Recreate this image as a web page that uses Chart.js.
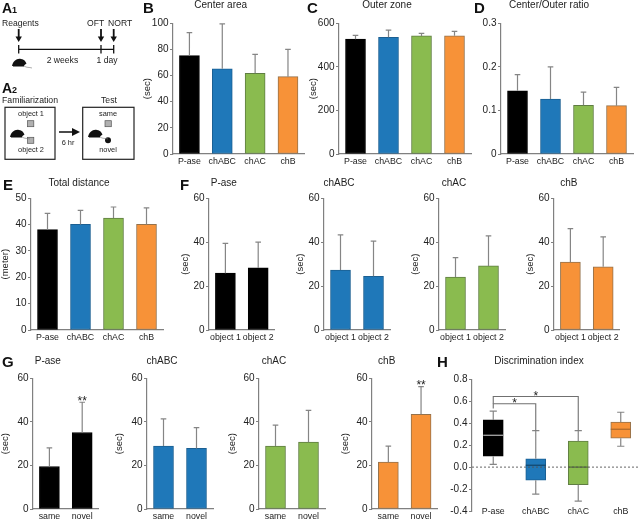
<!DOCTYPE html>
<html>
<head>
<meta charset="utf-8">
<title>Behaviour panels</title>
<script src="https://cdn.jsdelivr.net/npm/chart.js@4/dist/chart.umd.js"></script>
<style>
  html, body { margin: 0; padding: 0; background: #fff; }
  #page { position: relative; width: 640px; height: 520px; overflow: hidden; }
  #page canvas { position: absolute; }
  #schema { position: absolute; left: 0; top: 0; will-change: transform; }
  #schema text { font-family: "Liberation Sans", Arial, sans-serif; fill: #222; }
  #schema .letter { font-weight: bold; fill: #111; }
</style>
</head>
<body>
<div id="page">
  <svg id="schema" width="640" height="520" viewBox="0 0 640 520">
    <defs>
      <g id="mouse">
        <path d="M0 8 C1 3 5 0 9 1 C11 1 12 2 13 3 L14.5 5.5 L12.5 7 L12 8 Z" fill="#111"/>
        <path d="M1 8 L12 8" stroke="#111" stroke-width="1"/>
        <path d="M12 8 C15 10 17 9 20 10" stroke="#777" stroke-width="0.6" fill="none"/>
      </g>
      <path id="arrow" d="M-0.9 0 L0.9 0 L0.9 7.5 L3.2 7.5 L0 13 L-3.2 7.5 L-0.9 7.5 Z" fill="#111"/>
    </defs>

    <text class="letter" x="2" y="12.5" font-size="14">A</text>
    <text class="letter" x="12" y="12.5" font-size="9">1</text>
    <text x="2" y="25.5" font-size="8.6">Reagents</text>
    <text x="87" y="25.5" font-size="8.6">OFT</text>
    <text x="108" y="25.5" font-size="8.6">NORT</text>
    <use href="#arrow" x="18.7" y="29"/>
    <use href="#arrow" x="101" y="29"/>
    <use href="#arrow" x="113.7" y="29"/>
    <path d="M18.7 49.3 H113.7 M18.7 45 V53.5 M101 45 V53.5 M113.7 45 V53.5" stroke="#111" stroke-width="1.3" fill="none"/>
    <text x="46.7" y="62.7" font-size="8.6">2 weeks</text>
    <text x="96.5" y="62.7" font-size="8.6">1 day</text>
    <use href="#mouse" x="12" y="58"/>

    <text class="letter" x="2" y="92.5" font-size="14">A</text>
    <text class="letter" x="12" y="92.5" font-size="9">2</text>
    <text x="2" y="102.5" font-size="8.7">Familiarization</text>
    <text x="109" y="102.5" font-size="8.7" text-anchor="middle">Test</text>

    <rect x="5" y="107.3" width="50" height="52" fill="#fff" stroke="#222" stroke-width="1.2"/>
    <text x="31" y="115.5" font-size="7.4" text-anchor="middle">object 1</text>
    <rect x="27.5" y="120.7" width="6.3" height="6" fill="#b0b0b0" stroke="#555" stroke-width="0.7"/>
    <rect x="27.5" y="137.3" width="6.3" height="6" fill="#b0b0b0" stroke="#555" stroke-width="0.7"/>
    <text x="31" y="152" font-size="7.4" text-anchor="middle">object 2</text>
    <use href="#mouse" x="10" y="129"/>

    <path d="M59 131.2 H72 V128 L80 132 L72 136 V132.8 H59 Z" fill="#111"/>
    <text x="68" y="145" font-size="7.4" text-anchor="middle">6 hr</text>

    <rect x="82.7" y="107.3" width="51.3" height="52" fill="#fff" stroke="#222" stroke-width="1.2"/>
    <text x="108" y="116" font-size="7.4" text-anchor="middle">same</text>
    <rect x="105" y="120.7" width="6.3" height="6" fill="#b0b0b0" stroke="#555" stroke-width="0.7"/>
    <circle cx="108" cy="140.3" r="3" fill="#111"/>
    <text x="108" y="152" font-size="7.4" text-anchor="middle">novel</text>
    <use href="#mouse" x="88" y="129"/>

    <text class="letter" x="143" y="12.5" font-size="15">B</text>
    <text class="letter" x="307" y="12.5" font-size="15">C</text>
    <text class="letter" x="474" y="12.5" font-size="15">D</text>
    <text class="letter" x="3" y="190" font-size="15">E</text>
    <text class="letter" x="180" y="190" font-size="15">F</text>
    <text class="letter" x="2" y="367" font-size="15">G</text>
    <text class="letter" x="437" y="367" font-size="15">H</text>
  </svg>
</div>

<script>
// categories
var groupLabels = ['P-ase', 'chABC', 'chAC', 'chB'];
var objectLabels = ['object 1', 'object 2'];
var testLabels = ['same', 'novel'];

// y axis ticks
var centerTicks = [0, 20, 40, 60, 80, 100];
var outerTicks = [0, 200, 400, 600];
var ratioTicks = [0, 0.1, 0.2, 0.3];
var distanceTicks = [0, 10, 20, 30, 40, 50];
var secTicks = [0, 20, 40, 60];
var indexTicks = [-0.4, -0.2, 0, 0.2, 0.4, 0.6, 0.8];

// B, C, D, E: mean and top of the error bar
var centerMeans = [75.3, 65.2, 61.8, 59.2];
var centerTops = [92.8, 99.5, 76.2, 80];
var outerMeans = [527, 536, 542, 543];
var outerTops = [545, 569, 554, 563];
var ratioMeans = [0.145, 0.126, 0.112, 0.111];
var ratioTops = [0.182, 0.2, 0.142, 0.153];
var distanceMeans = [38.1, 40.1, 42.5, 40.1];
var distanceTops = [44.3, 45.4, 46.7, 46.4];

// F: familiarization
var famPaseMeans = [25.9, 28.3];
var famPaseTops = [39.5, 40];
var famAbcMeans = [27.3, 24.5];
var famAbcTops = [43.3, 40.5];
var famAcMeans = [24.1, 29.2];
var famAcTops = [33, 42.9];
var famBMeans = [30.9, 28.8];
var famBTops = [46.2, 42.4];

// G: test
var testPaseMeans = [19.5, 35.1];
var testPaseTops = [28.1, 49];
var testAbcMeans = [28.9, 27.8];
var testAbcTops = [41.4, 37.4];
var testAcMeans = [28.9, 30.7];
var testAcTops = [38.5, 45.3];
var testBMeans = [21.5, 43.5];
var testBTops = [28.9, 56.2];
var novelStars = ['', '**'];

// H: box plot
var indexQ1 = [0.10, -0.12, -0.16, 0.263];
var indexQ3 = [0.43, 0.075, 0.236, 0.41];
var indexMedian = [0.29, 0.017, 0, 0.345];
var indexLow = [0.025, -0.247, -0.31, 0.19];
var indexHigh = [0.51, 0.333, 0.333, 0.50];
// from group, to group, bracket height, left foot, right foot
var indexBrackets = [
  [0, 1, 0.577, 0.535, 0.333],
  [0, 2, 0.643, 0.577, 0.333]
];

var black = '#000000', blue = '#1f78b9', green = '#8abb4f', orange = '#f79238';
var blueEdge = '#1b5f92', greenEdge = '#5f7d42', orangeEdge = '#94724c';
var groupColors = [black, blue, green, orange];
var groupEdges = [black, blueEdge, greenEdge, orangeEdge];
var medianColors = ['#b5b5b5', '#12456b', '#4f6b35', '#a8662c'];
var axisGrey = '#808080';
var fontName = '"Liberation Sans", Arial, sans-serif';

Chart.register({
  id: 'errorMarks',
  afterDatasetsDraw: function(chart) {
    var set = chart.data.datasets[0];
    var ctx = chart.ctx;
    var y = chart.scales.y;
    var bars = chart.getDatasetMeta(0).data;
    var cap = function(x, py, half) {
      ctx.moveTo(x - half, py);
      ctx.lineTo(x + half, py);
    };

    ctx.save();
    ctx.strokeStyle = '#858585';
    ctx.lineWidth = 1.2;
    ctx.beginPath();
    bars.forEach(function(bar, i) {
      if (set.errorTops) {
        ctx.moveTo(bar.x, y.getPixelForValue(set.data[i]));
        ctx.lineTo(bar.x, y.getPixelForValue(set.errorTops[i]));
        cap(bar.x, y.getPixelForValue(set.errorTops[i]), 2.8);
      }
      if (set.whiskerHigh) {
        ctx.moveTo(bar.x, y.getPixelForValue(set.data[i][1]));
        ctx.lineTo(bar.x, y.getPixelForValue(set.whiskerHigh[i]));
        cap(bar.x, y.getPixelForValue(set.whiskerHigh[i]), 3.6);
        ctx.moveTo(bar.x, y.getPixelForValue(set.data[i][0]));
        ctx.lineTo(bar.x, y.getPixelForValue(set.whiskerLow[i]));
        cap(bar.x, y.getPixelForValue(set.whiskerLow[i]), 3.6);
      }
    });
    ctx.stroke();

    if (set.medians) {
      bars.forEach(function(bar, i) {
        ctx.strokeStyle = medianColors[i];
        ctx.beginPath();
        cap(bar.x, y.getPixelForValue(set.medians[i]), 10);
        ctx.stroke();
      });
    }

    // stars above the bars
    if (set.stars) {
      ctx.fillStyle = '#222';
      ctx.font = '12px ' + fontName;
      ctx.textAlign = 'center';
      ctx.textBaseline = 'alphabetic';
      bars.forEach(function(bar, i) {
        ctx.fillText(set.stars[i], bar.x, y.getPixelForValue(set.errorTops[i]) + 2.5);
      });
    }

    // zero line and the brackets of panel H
    if (set.brackets) {
      ctx.strokeStyle = '#555';
      ctx.lineWidth = 0.9;
      ctx.setLineDash([2, 2]);
      ctx.beginPath();
      ctx.moveTo(chart.chartArea.left, y.getPixelForValue(0));
      ctx.lineTo(640, y.getPixelForValue(0));
      ctx.stroke();
      ctx.setLineDash([]);

      ctx.strokeStyle = '#707070';
      ctx.lineWidth = 1.1;
      ctx.fillStyle = '#222';
      ctx.font = '12px ' + fontName;
      ctx.textAlign = 'center';
      set.brackets.forEach(function(b) {
        var x1 = bars[b[0]].x, x2 = bars[b[1]].x;
        ctx.beginPath();
        ctx.moveTo(x1, y.getPixelForValue(b[3]));
        ctx.lineTo(x1, y.getPixelForValue(b[2]));
        ctx.lineTo(x2, y.getPixelForValue(b[2]));
        ctx.lineTo(x2, y.getPixelForValue(b[4]));
        ctx.stroke();
        ctx.fillText('*', (x1 + x2) / 2, y.getPixelForValue(b[2]) + 3);
      });
    }
    ctx.restore();
  }
});

// place: axis left, axis right, axis top, axis bottom, title centre x, title centre y, y title centre x
function panel(title, labels, dataset, ticks, yTitle, place, extra) {
  extra = extra || {};
  var left = place[0], right = place[1], top = place[2], bottom = place[3];
  var cx = place[4], cy = place[5], yTitleX = place[6];
  var half = Math.max(cx - left + 36, right - cx + 6);
  var canvasLeft = cx - half;
  var canvasTop = cy - 5;
  var canvasHeight = bottom + 14 - canvasTop;

  var canvas = document.createElement('canvas');
  canvas.width = half * 2;
  canvas.height = canvasHeight;
  canvas.style.left = canvasLeft + 'px';
  canvas.style.top = canvasTop + 'px';
  document.getElementById('page').appendChild(canvas);

  dataset.barThickness = 20;
  dataset.borderWidth = 1;
  dataset.borderSkipped = false;

  return new Chart(canvas.getContext('2d'), {
    type: 'bar',
    data: { labels: labels, datasets: [dataset] },
    options: {
      responsive: false,
      animation: false,
      devicePixelRatio: 1,
      layout: { autoPadding: false, padding: { right: cx + half - right } },
      plugins: {
        legend: { display: false },
        tooltip: { enabled: false },
        title: {
          display: true,
          text: title,
          color: '#222',
          font: { family: fontName, size: 10, lineHeight: 1, weight: 'normal' },
          padding: { top: 0, bottom: top - canvasTop - 10 }
        }
      },
      scales: {
        x: {
          afterFit: function(scale) { scale.height = 14; },
          border: { display: !extra.noBaseline, color: axisGrey, width: 1.2 },
          grid: { display: false, drawTicks: false },
          ticks: {
            color: '#222',
            font: { family: fontName, size: 8.8 },
            // the box plot labels sit level with its lowest tick, mirror keeps them unclipped
            mirror: !!extra.noBaseline,
            padding: extra.noBaseline ? -6.3 : 2,
            maxRotation: 0,
            autoSkip: false
          }
        },
        y: {
          min: ticks[0],
          max: ticks[ticks.length - 1],
          afterFit: function(scale) { scale.width = left - canvasLeft; },
          afterBuildTicks: function(scale) {
            scale.ticks = ticks.map(function(v) { return { value: v }; });
          },
          border: { color: axisGrey, width: 1.2 },
          grid: { drawOnChartArea: false, color: axisGrey, tickLength: 3, lineWidth: 1 },
          ticks: {
            color: '#222',
            padding: 1.5,
            font: { family: fontName, size: 10 },
            callback: extra.tickFormat || function(v) { return String(v); }
          },
          title: {
            display: !!yTitle,
            text: yTitle,
            color: '#222',
            font: { family: fontName, size: 9.5, lineHeight: 1 },
            padding: { top: yTitleX - canvasLeft - 4.75, bottom: 0 }
          }
        }
      }
    }
  });
}

function groupBars(means, tops) {
  return { data: means, errorTops: tops, backgroundColor: groupColors, borderColor: groupEdges };
}
function twoBars(means, tops, colour, edge, stars) {
  var set = { data: means, errorTops: tops, backgroundColor: colour, borderColor: edge };
  if (stars) set.stars = stars;
  return set;
}

panel('Center area', groupLabels, groupBars(centerMeans, centerTops), centerTicks, '(sec)', [172.7, 304.7, 23.3, 154.5, 238, 5, 147]);
panel('Outer zone', groupLabels, groupBars(outerMeans, outerTops), outerTicks, '(sec)', [339, 471, 23.3, 154.5, 405, 5, 313]);
panel('Center/Outer ratio', groupLabels, groupBars(ratioMeans, ratioTops), ratioTicks, '', [501, 633, 23.3, 154.5, 566, 5, 475]);
panel('Total distance', groupLabels, groupBars(distanceMeans, distanceTops), distanceTicks, '(meter)', [31, 163, 198.3, 330, 94, 183, 5.7]);

panel('P-ase', objectLabels, twoBars(famPaseMeans, famPaseTops, black, black), secTicks, '(sec)', [209.3, 275.3, 198.3, 330, 242, 183, 186]);
panel('chABC', objectLabels, twoBars(famAbcMeans, famAbcTops, blue, blueEdge), secTicks, '(sec)', [324.3, 390.3, 198.3, 330, 359.3, 183, 300.7]);
panel('chAC', objectLabels, twoBars(famAcMeans, famAcTops, green, greenEdge), secTicks, '(sec)', [439, 505, 198.3, 330, 469, 183, 415.7]);
panel('chB', objectLabels, twoBars(famBMeans, famBTops, orange, orangeEdge), secTicks, '(sec)', [554.3, 620.3, 198.3, 330, 588, 183, 531]);

panel('P-ase', testLabels, twoBars(testPaseMeans, testPaseTops, black, black, novelStars), secTicks, '(sec)', [33.3, 99.3, 378.3, 509.3, 69, 361, 5.7]);
panel('chABC', testLabels, twoBars(testAbcMeans, testAbcTops, blue, blueEdge), secTicks, '(sec)', [147, 213, 378.3, 509.3, 181, 361, 119]);
panel('chAC', testLabels, twoBars(testAcMeans, testAcTops, green, greenEdge), secTicks, '(sec)', [259, 325, 378.3, 509.3, 294, 361, 232]);
panel('chB', testLabels, twoBars(testBMeans, testBTops, orange, orangeEdge, novelStars), secTicks, '(sec)', [371.7, 437.7, 378.3, 509.3, 404, 361, 345]);

panel('Discrimination index', groupLabels, {
  data: indexQ1.map(function(q, i) { return [q, indexQ3[i]]; }),
  medians: indexMedian,
  whiskerLow: indexLow,
  whiskerHigh: indexHigh,
  brackets: indexBrackets,
  backgroundColor: groupColors,
  borderColor: groupEdges
}, indexTicks, '', [471.7, 642.3, 379.3, 511, 545, 361, 445], {
  noBaseline: true,
  tickFormat: function(v) { return v.toFixed(1); }
});
</script>
</body>
</html>
